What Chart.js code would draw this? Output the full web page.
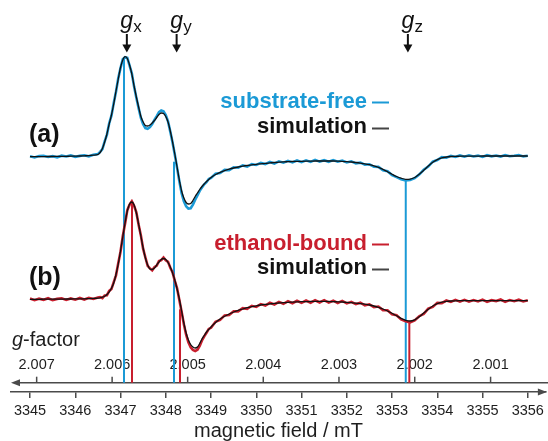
<!DOCTYPE html>
<html><head><meta charset="utf-8">
<script src="https://cdn.jsdelivr.net/npm/chart.js@4.4.1/dist/chart.umd.min.js"></script>
<style>html,body{margin:0;padding:0;background:#fff;}canvas{display:block;}</style>
</head><body>
<canvas id="c" width="548" height="441"></canvas>
<script>
// ---- data (magnetic field in mT, EPR derivative signal in arbitrary units) ----
const field = [
3345.0,3345.1,3345.2,3345.3,3345.4,3345.5,3345.6,3345.7,3345.8,3345.9,3346.0,3346.1,3346.2,3346.3,3346.4,3346.5,
3346.55,3346.6,3346.65,3346.7,3346.75,3346.8,3346.85,3346.9,3346.95,3347.0,3347.05,3347.1,3347.15,3347.2,3347.25,3347.3,
3347.35,3347.4,3347.45,3347.5,3347.55,3347.6,3347.65,3347.7,3347.75,3347.8,3347.85,3347.9,3347.95,3348.0,3348.05,3348.1,
3348.15,3348.2,3348.25,3348.3,3348.35,3348.4,3348.45,3348.5,3348.55,3348.6,3348.65,3348.7,3348.75,3348.8,3348.85,3348.9,3348.95,
3349.0,3349.1,3349.2,3349.3,3349.4,3349.5,3349.6,3349.7,3349.8,3349.9,3350.0,3350.1,3350.2,3350.3,3350.4,3350.5,3350.6,3350.7,
3350.8,3350.9,3351.0,3351.1,3351.2,3351.3,3351.4,3351.5,3351.6,3351.7,3351.8,3351.9,3352.0,3352.1,3352.2,3352.3,3352.4,3352.5,
3352.6,3352.7,3352.8,3352.9,3353.0,3353.1,3353.2,3353.3,3353.4,3353.5,3353.6,3353.7,3353.8,3353.9,3354.0,3354.1,3354.2,3354.3,
3354.4,3354.5,3354.6,3354.7,3354.8,3354.9,3355.0,3355.1,3355.2,3355.3,3355.4,3355.5,3355.6,3355.7,3355.8,3355.9,3356.0];

// (a) substrate-free: simulation and experiment
const simA = [
0,0,0.1,0.1,0.2,0.2,0.3,0.3,0.4,0.5,0.6,0.7,0.9,1.1,1.5,2.2,
4.2,8.2,14.7,22.7,32.7,41.7,52.7,65.7,77.7,89.2,96.7,100,98.2,91.7,82.7,70.7,
59.7,49.7,40.2,34.7,31.2,30.7,31.7,33.7,36.2,39.2,42.2,43.7,43.2,40.2,34.7,25.7,
14.7,2.7,-10.3,-23.3,-34.3,-41.3,-45.8,-47.3,-46.8,-43.8,-39.8,-36.3,-32.8,-29.8,-27.3,-24.8,-22.8,
-20.8,-17.8,-15.6,-13.9,-12.5,-11.3,-10.3,-9.5,-8.8,-8.2,-7.6,-7.1,-6.6,-6.2,-5.8,-5.5,-5.2,-5.0,
-4.8,-4.7,-4.6,-4.5,-4.4,-4.3,-4.3,-4.3,-4.3,-4.3,-4.4,-4.6,-4.9,-5.3,-5.8,-6.4,-7.1,-8.0,
-9.2,-10.7,-12.6,-15.0,-17.5,-19.8,-21.5,-22.6,-22.4,-20.8,-17.6,-13.6,-9.4,-5.6,-2.9,-1.2,-0.3,0.2,
0.4,0.5,0.6,0.6,0.6,0.6,0.7,0.7,0.7,0.7,0.7,0.7,0.7,0.7,0.7,0.7,0.7];
const expA = [
0.4,-0.7,0.6,0.9,-0.3,0.5,-0.6,1.0,0.2,1.3,-0.1,0.8,1.5,0.4,2.0,2.6,
4.9,7.6,15.4,22.1,33.5,41.0,53.6,65.0,78.4,88.6,97.5,99.6,98.9,91.0,83.4,70.1,
59.0,48.6,38.9,32.4,28.6,27.8,29.5,32.6,36.9,40.6,44.5,46.2,45.4,41.6,35.3,25.1,
14.2,2.0,-11.2,-24.6,-36.4,-44.5,-49.6,-52.0,-51.6,-47.9,-42.9,-38.6,-34.1,-30.9,-27.6,-25.5,-22.4,
-21.3,-17.1,-16.4,-13.2,-13.4,-10.6,-11.0,-8.7,-9.9,-7.5,-8.3,-6.2,-7.4,-5.3,-6.9,-4.6,-6.0,-4.1,
-5.7,-3.8,-5.5,-3.6,-5.2,-3.2,-4.9,-3.5,-5.1,-3.4,-5.0,-3.9,-5.8,-4.6,-6.7,-5.9,-8.0,-7.6,
-10.1,-10.2,-13.5,-14.6,-18.4,-20.4,-22.6,-23.8,-23.3,-21.5,-17.9,-13.1,-9.9,-5.0,-3.4,-0.5,-1.0,0.9,
-0.3,1.3,0.0,1.4,0.2,1.1,-0.2,1.5,0.4,1.2,0.1,1.6,0.5,0.9,1.7,0.3,1.0];

// (b) ethanol-bound: simulation and experiment
const simB = [
0,0,0,0.1,0.1,0.1,0.2,0.2,0.3,0.3,0.4,0.4,0.5,0.7,0.9,1.2,
1.5,2.1,3.1,4.8,7.5,11.1,16.3,24.8,35.3,48.3,62.3,76.3,88.3,95.3,97.3,94.3,
86.3,75.3,63.3,51.3,41.3,34.3,30.3,29.8,31.3,34.3,37.3,39.8,40.8,39.8,36.8,32.3,
26.3,19.3,10.3,0.3,-11.7,-23.7,-33.7,-40.7,-45.2,-47.7,-48.7,-47.7,-44.2,-39.7,-36.2,-32.7,-30.2,
-27.7,-23.2,-19.7,-17.0,-14.7,-12.7,-11.0,-9.7,-8.4,-7.4,-6.5,-5.7,-5.1,-4.6,-4.1,-3.7,-3.3,-3.0,
-2.8,-2.6,-2.4,-2.3,-2.2,-2.1,-2.1,-2.1,-2.2,-2.3,-2.5,-2.7,-3.0,-3.4,-3.8,-4.3,-4.9,-5.7,
-6.7,-8.0,-9.7,-11.7,-14.0,-16.5,-19.0,-21.0,-21.7,-20.5,-17.5,-13.7,-10.0,-6.7,-4.4,-2.9,-2.1,-1.7,
-1.5,-1.4,-1.4,-1.3,-1.3,-1.3,-1.3,-1.3,-1.3,-1.3,-1.3,-1.3,-1.3,-1.3,-1.3,-1.3,-1.3];
const expB = [
0.8,-0.9,0.6,-0.5,1.1,-0.8,0.4,1.0,-0.6,0.9,-0.4,1.3,-0.2,1.5,0.3,1.9,
2.3,1.2,3.9,4.1,8.4,10.3,17.2,24.0,36.1,47.5,63.2,75.6,89.1,94.6,97.9,93.5,
86.9,74.5,63.9,50.4,41.8,33.4,30.9,29.0,32.1,33.6,38.2,39.2,41.7,39.0,37.5,31.6,
27.0,18.5,11.0,-0.6,-12.5,-24.9,-35.4,-43.1,-48.0,-50.6,-51.8,-50.4,-46.5,-41.2,-37.0,-33.5,-29.6,
-28.5,-22.4,-20.6,-16.1,-15.8,-11.9,-12.1,-8.8,-9.6,-6.5,-7.6,-4.8,-6.3,-3.5,-5.2,-2.6,-4.5,-1.9,
-3.9,-1.5,-3.6,-1.2,-3.4,-1.0,-3.2,-0.9,-3.3,-1.4,-3.7,-1.6,-4.1,-2.5,-4.9,-3.4,-6.0,-5.0,
-7.8,-7.2,-10.8,-11.0,-15.1,-16.0,-20.1,-21.9,-23.0,-21.2,-16.9,-14.6,-9.3,-7.6,-3.6,-3.8,-1.2,-2.6,
-0.6,-2.3,-0.5,-2.4,-0.7,-2.1,-0.3,-2.5,-0.9,-1.8,-0.2,-2.6,-0.8,-1.9,-0.4,-2.2,-1.0];

const offsetA = 235.3;          // vertical offset of spectrum (a)
const offsetB = 92.7;           // vertical offset of spectrum (b)
const fieldTicks = [3345,3346,3347,3348,3349,3350,3351,3352,3353,3354,3355,3356];
const gTicks = [2.007,2.006,2.005,2.004,2.003,2.002,2.001];
const gConst = 6713.71;         // h*nu/muB in mT  (g = gConst / B)
const gAxisLevel = 9.3;
// g-tensor markers: field positions and signal height where each marker line ends
const markFieldsA = [3347.077, 3348.182, 3353.303];
const markTopsA = [99.7, -5, -22.6];
const markFieldsB = [3347.254, 3348.315, 3353.382];
const markTopsB = [97.3, -10, -21.7];
const arrowFields = [3347.14, 3348.24, 3353.35];
const arrowSubs = ['x','y','z'];

// ---- styling ----
const FAM = '"Liberation Sans", Arial, Helvetica, sans-serif';
const BLUE = '#1b9ad6', RED = '#c81f2e', AXIS = '#4a4a4a', INK = '#1e1e1e';

const pts = (ys, off) => field.map((f, i) => ({x: f, y: off + ys[i]}));
const markers = [];
markFieldsA.forEach((f, i) => markers.push({data: [{x: f, y: gAxisLevel}, {x: f, y: offsetA + markTopsA[i]}], borderColor: BLUE, borderWidth: 2, order: 3}));
markFieldsB.forEach((f, i) => markers.push({data: [{x: f, y: gAxisLevel}, {x: f, y: offsetB + markTopsB[i]}], borderColor: RED, borderWidth: 2, order: 3}));

const overlay = {
  id: 'overlay',
  beforeDatasetsDraw(chart) {
    const {ctx, chartArea: ca, scales: {x, y}} = chart;
    const gy = y.getPixelForValue(gAxisLevel);
    ctx.save();
    ctx.strokeStyle = AXIS; ctx.fillStyle = AXIS; ctx.lineWidth = 1.5;
    ctx.beginPath(); ctx.moveTo(ca.left + 5, gy); ctx.lineTo(chart.width, gy); ctx.stroke();
    ctx.beginPath(); ctx.moveTo(ca.left, gy); ctx.lineTo(ca.left + 9, gy - 3.5); ctx.lineTo(ca.left + 9, gy + 3.5); ctx.closePath(); ctx.fill();
    ctx.font = '14.5px ' + FAM; ctx.textAlign = 'center'; ctx.textBaseline = 'middle';
    gTicks.forEach(g => {
      const px = x.getPixelForValue(gConst / g);
      ctx.strokeStyle = AXIS;
      ctx.beginPath(); ctx.moveTo(px, gy); ctx.lineTo(px, gy - 6); ctx.stroke();
      ctx.fillStyle = INK; ctx.fillText(g.toFixed(3), px, gy - 17.5);
    });
    // g-factor label
    ctx.textAlign = 'left'; ctx.fillStyle = INK;
    ctx.font = 'italic 20px ' + FAM;
    ctx.fillText('g', 12, 340.7);
    const w = ctx.measureText('g').width;
    ctx.font = '20px ' + FAM;
    ctx.fillText('-factor', 12 + w, 340.7);
    ctx.restore();
  },
  afterDraw(chart) {
    const {ctx, chartArea: ca, scales: {x}} = chart;
    ctx.save();
    // arrowhead of field axis
    const fy = ca.bottom;
    ctx.fillStyle = AXIS;
    ctx.beginPath(); ctx.moveTo(ca.right + 1, fy); ctx.lineTo(ca.right - 8, fy - 3.5); ctx.lineTo(ca.right - 8, fy + 3.5); ctx.closePath(); ctx.fill();
    // g-tensor arrows at top
    arrowFields.forEach((f, i) => {
      const px = x.getPixelForValue(f);
      ctx.fillStyle = '#111'; ctx.strokeStyle = '#111'; ctx.lineWidth = 2;
      ctx.beginPath(); ctx.moveTo(px, 34); ctx.lineTo(px, 46); ctx.stroke();
      ctx.beginPath(); ctx.moveTo(px - 4.5, 44.5); ctx.lineTo(px + 4.5, 44.5); ctx.lineTo(px, 52.5); ctx.closePath(); ctx.fill();
      ctx.textAlign = 'left'; ctx.textBaseline = 'alphabetic';
      ctx.font = 'italic 23px ' + FAM;
      ctx.fillText('g', px - 6.5, 28);
      ctx.font = '17px ' + FAM;
      ctx.fillText(arrowSubs[i], px + 6.5, 31.5);
    });
    // panel labels
    ctx.font = 'bold 25px ' + FAM; ctx.fillStyle = '#111'; ctx.textAlign = 'left'; ctx.textBaseline = 'alphabetic';
    ctx.fillText('(a)', 29, 141.5);
    ctx.fillText('(b)', 29, 284.8);
    // legends
    const leg = [['substrate-free', BLUE, 101.5, 102.5], ['simulation', '#111', 126.5, 128.5],
                 ['ethanol-bound', RED, 243.5, 244.5], ['simulation', '#111', 268, 269.5]];
    ctx.font = 'bold 22px ' + FAM; ctx.textAlign = 'right'; ctx.textBaseline = 'middle';
    leg.forEach(([t, c, ty, dy]) => {
      ctx.fillStyle = c; ctx.fillText(t, 367, ty);
      ctx.strokeStyle = c === '#111' ? '#444' : c; ctx.lineWidth = 2;
      ctx.beginPath(); ctx.moveTo(372, dy); ctx.lineTo(389, dy); ctx.stroke();
    });
    ctx.restore();
  }
};

new Chart(document.getElementById('c'), {
  type: 'line',
  data: {
    datasets: [
      {label: 'simulation (a)', data: pts(simA, offsetA), borderColor: '#111', borderWidth: 1.3, cubicInterpolationMode: 'monotone', order: 0},
      {label: 'simulation (b)', data: pts(simB, offsetB), borderColor: '#111', borderWidth: 1.3, cubicInterpolationMode: 'monotone', order: 0},
      {label: 'substrate-free', data: pts(expA, offsetA), borderColor: BLUE, borderWidth: 2.6, order: 1},
      {label: 'ethanol-bound', data: pts(expB, offsetB), borderColor: RED, borderWidth: 2.6, order: 1},
      ...markers
    ]
  },
  options: {
    responsive: false, animation: false, devicePixelRatio: 1,
    layout: {padding: {left: 11, right: 2, top: 0, bottom: 0}},
    plugins: {legend: {display: false}, tooltip: {enabled: false}},
    elements: {point: {radius: 0}, line: {tension: 0, fill: false}},
    scales: {
      x: {
        type: 'linear', min: 3344.58, max: 3356.40,
        afterBuildTicks: a => { a.ticks = fieldTicks.map(v => ({value: v})); },
        afterFit: s => { s.height = 49; },
        grid: {display: true, drawOnChartArea: false, drawTicks: true, tickLength: 6, color: AXIS, lineWidth: 1.5},
        border: {display: true, color: AXIS, width: 1.5},
        ticks: {color: INK, font: {family: FAM, size: 14.5}, padding: 4, maxRotation: 0, autoSkip: false, callback: v => String(v)},
        title: {display: true, text: 'magnetic field / mT', color: INK, font: {family: FAM, size: 20, lineHeight: 1}, padding: {top: 0, bottom: 0}}
      },
      y: {type: 'linear', display: false, min: 0, max: 392}
    }
  },
  plugins: [overlay]
});
</script>
</body></html>
